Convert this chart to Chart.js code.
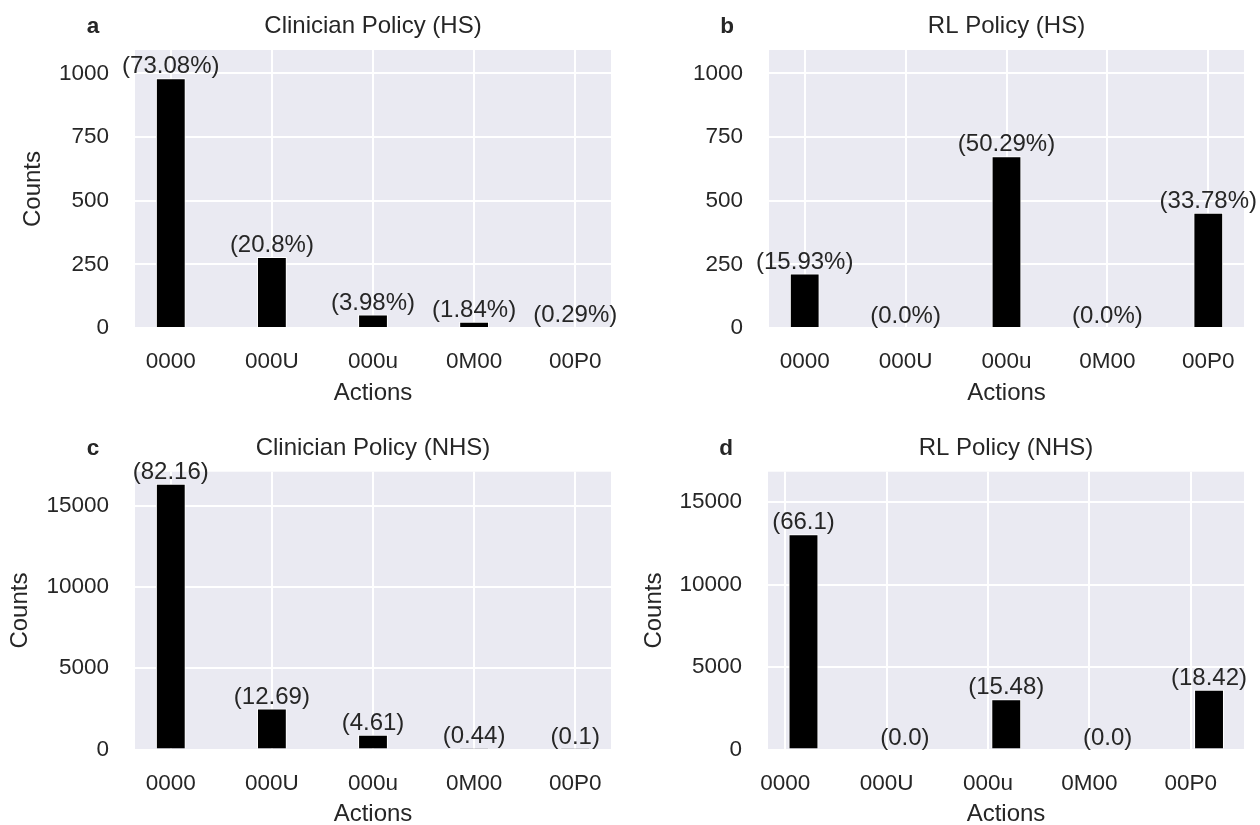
<!DOCTYPE html>
<html>
<head>
<meta charset="utf-8">
<title>Action counts</title>
<script src="https://cdn.jsdelivr.net/npm/chart.js@4/dist/chart.umd.min.js"></script>
<style>
    html, body { margin: 0; padding: 0; background: #fff; overflow: hidden; }
    #fig { position: relative; width: 1260px; height: 825px; }
    canvas { position: absolute; }
</style>
</head>
<body>
<div id="fig">
    <canvas id="chartA" width="630" height="412" style="left:0;top:0"></canvas>
    <canvas id="chartB" width="630" height="412" style="left:630px;top:0"></canvas>
    <canvas id="chartC" width="630" height="413" style="left:0;top:412px"></canvas>
    <canvas id="chartD" width="630" height="413" style="left:630px;top:412px"></canvas>
</div>
<script>
// data
var categories = ['0000', '000U', '000u', '0M00', '00P0'];

var clinicianHS = [981, 279, 53, 25, 4];
var rlHS = [214, 0, 675, 0, 453];
var clinicianNHS = [16360, 2520, 915, 88, 20];
var rlNHS = [13050, 0, 3050, 0, 3630];

var clinicianHSLabels = ['(73.08%)', '(20.8%)', '(3.98%)', '(1.84%)', '(0.29%)'];
var rlHSLabels = ['(15.93%)', '(0.0%)', '(50.29%)', '(0.0%)', '(33.78%)'];
var clinicianNHSLabels = ['(82.16)', '(12.69)', '(4.61)', '(0.44)', '(0.1)'];
var rlNHSLabels = ['(66.1)', '(0.0)', '(15.48)', '(0.0)', '(18.42)'];

var hsTicks = [0, 250, 500, 750, 1000];
var nhsTicks = [0, 5000, 10000, 15000];

var FONT = "'Liberation Sans', Arial, Helvetica, sans-serif";
var TEXT = '#262626';

Chart.defaults.font.family = FONT;
Chart.defaults.color = TEXT;
Chart.defaults.animation = false;

// background, panel letter, title and bar annotations
var panelDecor = {
    id: 'panelDecor',
    beforeDraw: function (chart) {
        var a = chart.chartArea;
        var ctx = chart.ctx;
        ctx.save();
        ctx.fillStyle = '#eaeaf2';
        ctx.fillRect(a.left, a.top, a.right - a.left, a.bottom - a.top);
        ctx.restore();
    },
    afterDraw: function (chart, args, opts) {
        var a = chart.chartArea;
        var ctx = chart.ctx;
        var baseY = a.top - 16.7;
        ctx.save();
        ctx.fillStyle = TEXT;
        ctx.textAlign = 'center';
        ctx.textBaseline = 'alphabetic';
        ctx.font = '24px ' + FONT;
        ctx.fillText(opts.title, (a.left + a.right) / 2, baseY);
        ctx.font = 'bold 22.5px ' + FONT;
        ctx.fillText(opts.letter, a.left - 42, baseY);

        ctx.font = '24px ' + FONT;
        chart.getDatasetMeta(0).data.forEach(function (bar, i) {
            ctx.fillText(opts.labels[i], bar.x, bar.y - 5);
        });
        ctx.restore();
    }
};

function drawPanel(id, p) {
    var canvas = document.getElementById(id);
    var w = canvas.width, h = canvas.height;

    return new Chart(canvas.getContext('2d'), {
        type: 'bar',
        data: {
            datasets: [{
                data: p.values.map(function (v, i) { return {x: i + p.shift, y: v}; }),
                backgroundColor: '#000000',
                borderColor: '#ffffff',
                borderWidth: 1,
                categoryPercentage: 1,
                barPercentage: 0.295
            }]
        },
        options: {
            responsive: false,
            devicePixelRatio: 1,
            layout: {
                padding: {left: 0, top: p.area.top, right: w - p.area.right, bottom: 0}
            },
            plugins: {
                legend: {display: false},
                tooltip: {enabled: false},
                panelDecor: {title: p.title, letter: p.letter, labels: p.labels}
            },
            scales: {
                x: {
                    type: 'linear',
                    min: p.xMin,
                    max: p.xMax,
                    offset: false,
                    grid: {color: '#ffffff', lineWidth: 2, drawTicks: false, offset: false},
                    border: {display: false},
                    ticks: {
                        padding: 20.5,
                        font: {size: 22.5},
                        callback: function (value, index) { return categories[index]; }
                    },
                    title: {
                        display: true,
                        text: 'Actions',
                        font: {size: 24},
                        padding: {top: 0, bottom: p.xTitlePad}
                    },
                    afterBuildTicks: function (scale) {
                        scale.ticks = categories.map(function (c, i) { return {value: i}; });
                    },
                    afterFit: function (scale) {
                        scale.height = h - p.area.bottom;
                    }
                },
                y: {
                    min: 0,
                    max: p.yMax,
                    grid: {color: '#ffffff', lineWidth: 2, drawTicks: false},
                    border: {display: false},
                    ticks: {
                        padding: 26,
                        font: {size: 22.5},
                        callback: function (value) { return String(value); }
                    },
                    title: {
                        display: p.yTitle,
                        text: 'Counts',
                        font: {size: 24},
                        padding: {top: p.yTitlePad, bottom: 0}
                    },
                    afterBuildTicks: function (scale) {
                        scale.ticks = p.yTicks.map(function (v) { return {value: v}; });
                    },
                    afterFit: function (scale) {
                        scale.width = p.area.left;
                    }
                }
            }
        },
        plugins: [panelDecor]
    });
}

drawPanel('chartA', {
    letter: 'a', title: 'Clinician Policy (HS)',
    values: clinicianHS, labels: clinicianHSLabels, yTicks: hsTicks, yMax: 1092,
    shift: 0, xMin: -0.354, xMax: 4.354,
    area: {left: 135, right: 611, top: 50, bottom: 328},
    yTitle: true, yTitlePad: 18.6, xTitlePad: 3.9
});

drawPanel('chartB', {
    letter: 'b', title: 'RL Policy (HS)',
    values: rlHS, labels: rlHSLabels, yTicks: hsTicks, yMax: 1092,
    shift: 0, xMin: -0.354, xMax: 4.354,
    area: {left: 139, right: 614, top: 50, bottom: 328},
    yTitle: false, yTitlePad: 0, xTitlePad: 3.9
});

drawPanel('chartC', {
    letter: 'c', title: 'Clinician Policy (NHS)',
    values: clinicianNHS, labels: clinicianNHSLabels, yTicks: nhsTicks, yMax: 17100,
    shift: 0, xMin: -0.354, xMax: 4.354,
    area: {left: 135, right: 611, top: 59.7, bottom: 337.5},
    yTitle: true, yTitlePad: 5.6, xTitlePad: -4.1
});

drawPanel('chartD', {
    letter: 'd', title: 'RL Policy (NHS)',
    values: rlNHS, labels: rlNHSLabels, yTicks: nhsTicks, yMax: 16850,
    shift: 0.18, xMin: -0.17, xMax: 4.525,
    area: {left: 138, right: 614, top: 59.7, bottom: 337.5},
    yTitle: true, yTitlePad: 9.6, xTitlePad: -4.1
});
</script>
</body>
</html>
